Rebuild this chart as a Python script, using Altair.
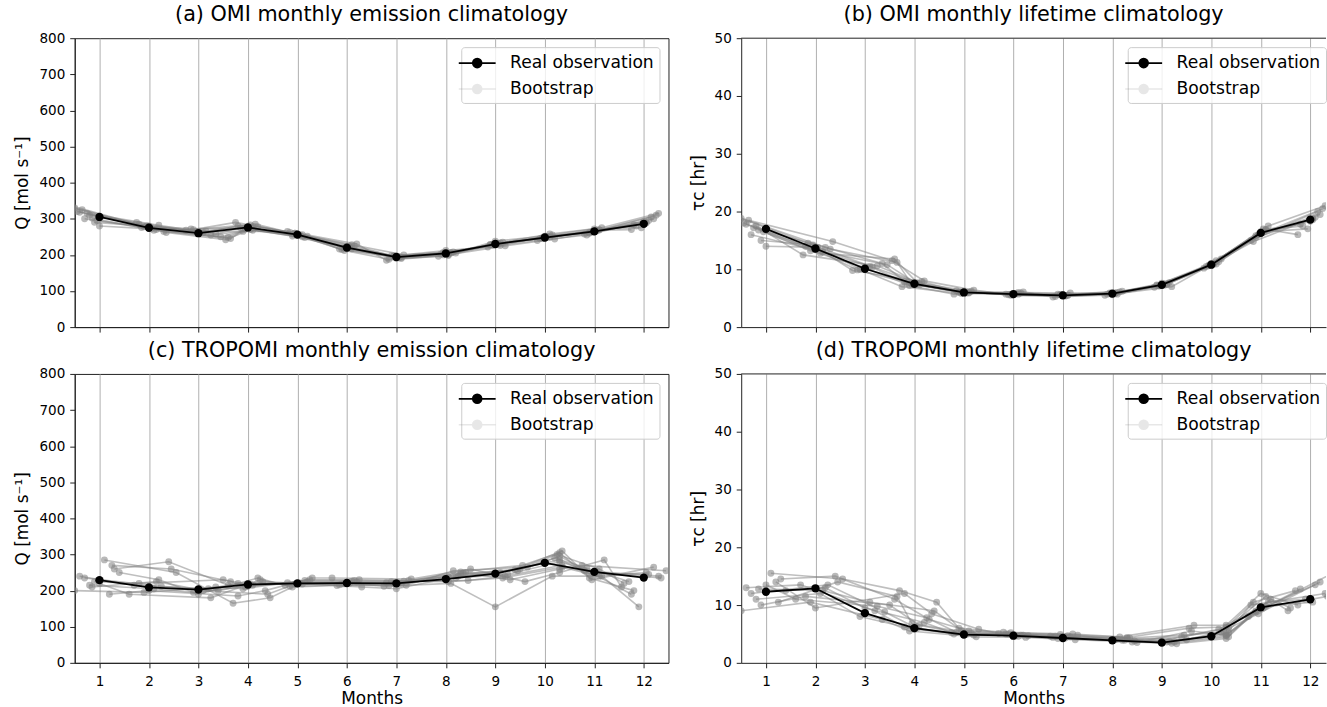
import altair as alt
import pandas as pd

months = list(range(1, 13))

# Real observations
omi_Q = [305, 275, 260, 276, 256, 220, 194, 204, 230, 248, 265, 286]
omi_tau = [17.0, 13.6, 10.1, 7.5, 6.0, 5.7, 5.5, 5.8, 7.3, 10.8, 16.3, 18.6]
tro_Q = [229, 209, 203, 217, 220, 221, 220, 232, 247, 277, 252, 236]
tro_tau = [12.3, 12.9, 8.6, 6.0, 4.9, 4.7, 4.3, 3.9, 3.5, 4.6, 9.6, 11.0]

# Bootstrap month offsets (sampled mean dates) for OMI and TROPOMI
omi_off = [
    [-0.45, -0.20, 0.10, -0.20, -0.10, 0.05, -0.05, 0.10, -0.10, 0.05, -0.05, 0.20],
    [-0.30, 0.15, 0.45, 0.05, 0.10, -0.10, 0.10, -0.05, 0.05, -0.10, 0.10, -0.15],
    [-0.10, -0.05, -0.25, 0.15, -0.15, 0.15, -0.10, 0.15, 0.10, 0.15, -0.10, 0.05],
    [-0.55, 0.30, 0.65, -0.05, 0.05, 0.00, 0.05, -0.10, -0.05, -0.05, 0.05, -0.25],
    [-0.20, -0.25, 0.25, 0.10, 0.15, -0.05, -0.15, 0.05, 0.15, 0.10, 0.15, 0.30],
    [0.00, 0.05, -0.10, -0.25, -0.05, 0.10, 0.15, 0.00, -0.15, -0.15, -0.15, 0.10],
    [-0.35, 0.35, 0.55, 0.20, 0.20, -0.15, 0.00, 0.20, 0.00, 0.00, 0.00, -0.05],
    [-0.05, -0.10, 0.00, -0.10, -0.20, 0.20, -0.20, -0.15, 0.20, 0.20, -0.20, 0.15],
    [-0.25, 0.20, 0.35, -0.15, 0.00, -0.05, 0.10, 0.05, 0.05, 0.10, 0.05, 0.00],
    [-0.50, -0.15, 0.15, 0.05, -0.05, 0.05, -0.05, -0.05, -0.05, -0.05, -0.10, 0.25],
    [-0.15, 0.10, 0.60, 0.10, 0.10, 0.00, 0.05, 0.10, 0.10, 0.05, 0.10, -0.20],
    [-0.40, 0.00, -0.15, -0.05, -0.10, 0.10, 0.00, 0.05, -0.10, 0.00, 0.00, 0.05],
]
tro_off = [
    [-0.40, -0.30, 0.20, -0.20, -0.20, 0.20, -0.20, 0.05, 0.10, 0.30, -0.20, 0.30],
    [0.30, 0.40, 0.60, 0.30, 0.10, -0.10, 0.10, 0.30, 0.50, 0.25, 0.10, -0.40],
    [-0.20, 0.10, -0.10, 0.00, 0.20, 0.10, -0.10, 0.45, 0.20, 0.35, -0.10, 0.10],
    [0.10, 0.55, 0.70, 0.45, -0.10, -0.20, 0.20, 0.15, 0.65, 0.30, 0.00, -0.25],
    [-0.50, -0.10, 0.35, -0.10, 0.25, 0.25, 0.25, 0.40, 0.30, 0.30, -0.25, 0.45],
    [0.40, 0.20, 0.00, 0.20, -0.25, 0.00, -0.25, 0.10, 0.00, 0.15, 0.15, -0.10],
    [-0.10, -0.20, 0.50, 0.10, 0.00, 0.30, 0.00, 0.25, 0.40, 0.35, -0.05, 0.20],
    [0.20, 0.00, 0.80, 0.35, 0.30, -0.30, 0.30, 0.50, 0.60, 0.30, 0.20, -0.45],
    [-0.30, 0.25, 0.40, 0.05, 0.05, 0.05, 0.05, 0.20, 0.25, 0.30, 0.05, 0.35],
    [0.00, -0.40, 0.25, 0.25, -0.15, -0.15, -0.15, 0.35, 0.45, 0.20, -0.15, -0.30],
    [0.25, 0.45, 0.65, -0.05, 0.15, 0.15, 0.15, 0.05, 0.15, 0.35, 0.10, 0.05],
    [-0.15, 0.15, 0.10, 0.40, -0.05, -0.05, -0.05, 0.30, 0.55, 0.30, -0.10, -0.20],
]

# Bootstrap values
boot_omi_Q = [
    [320, 285, 262, 280, 258, 222, 196, 206, 228, 250, 263, 300],
    [300, 270, 250, 270, 250, 215, 190, 200, 232, 245, 270, 280],
    [290, 280, 268, 285, 262, 225, 198, 208, 226, 255, 260, 290],
    [335, 265, 245, 272, 255, 218, 192, 202, 230, 246, 268, 270],
    [310, 290, 255, 268, 248, 212, 188, 198, 235, 258, 275, 315],
    [280, 272, 270, 290, 260, 228, 200, 212, 222, 240, 255, 295],
    [325, 262, 242, 278, 252, 216, 195, 205, 238, 252, 272, 275],
    [295, 278, 265, 265, 265, 230, 185, 196, 225, 244, 258, 305],
    [315, 282, 258, 275, 254, 219, 193, 203, 231, 249, 266, 292],
    [330, 276, 266, 283, 260, 224, 197, 207, 227, 247, 262, 310],
    [302, 268, 248, 279, 256, 220, 194, 205, 233, 251, 269, 283],
    [318, 280, 272, 274, 252, 217, 191, 201, 229, 246, 264, 288],
]
boot_omi_tau = [
    [18.0, 14.0, 10.5, 7.8, 6.1, 5.8, 5.6, 6.0, 7.2, 10.9, 16.0, 19.5],
    [16.0, 13.0, 10.8, 7.5, 6.0, 5.6, 5.5, 5.8, 7.5, 10.5, 16.8, 17.5],
    [15.0, 14.2, 9.8, 7.9, 6.3, 5.9, 5.7, 6.1, 7.4, 11.3, 15.5, 18.8],
    [19.0, 13.5, 11.2, 7.4, 5.9, 5.6, 5.4, 5.7, 7.1, 10.6, 17.0, 16.0],
    [17.5, 12.5, 10.6, 7.6, 6.2, 5.5, 5.3, 5.9, 7.7, 11.5, 17.5, 21.0],
    [14.0, 13.8, 10.0, 7.0, 5.8, 6.0, 5.9, 5.6, 6.9, 10.2, 14.8, 19.0],
    [18.5, 14.8, 11.5, 8.0, 6.4, 5.7, 5.6, 6.2, 7.6, 11.0, 16.5, 17.0],
    [16.5, 13.2, 10.3, 7.2, 5.7, 6.1, 5.2, 5.5, 7.0, 11.8, 15.0, 20.0],
    [17.2, 13.8, 11.0, 7.6, 6.0, 5.7, 5.5, 5.8, 7.3, 10.9, 16.4, 18.3],
    [18.8, 14.5, 10.4, 7.7, 6.1, 5.8, 5.6, 5.9, 7.2, 10.7, 15.8, 20.5],
    [16.8, 12.8, 11.8, 7.3, 5.9, 5.6, 5.4, 5.7, 7.4, 11.1, 16.9, 17.8],
    [17.8, 13.4, 9.9, 7.5, 6.0, 5.7, 5.6, 5.8, 7.3, 10.8, 16.2, 18.6],
]
boot_tro_Q = [
    [240, 215, 205, 220, 222, 224, 222, 238, 250, 285, 255, 240],
    [260, 280, 215, 225, 218, 218, 218, 245, 260, 300, 260, 220],
    [215, 205, 195, 212, 225, 226, 225, 228, 240, 270, 248, 245],
    [285, 250, 165, 180, 210, 214, 215, 255, 265, 295, 245, 190],
    [200, 195, 210, 205, 230, 230, 228, 250, 230, 260, 270, 255],
    [250, 230, 190, 235, 215, 222, 212, 220, 155, 240, 240, 155],
    [225, 220, 230, 215, 220, 210, 205, 240, 258, 310, 230, 265],
    [190, 200, 185, 200, 235, 235, 232, 260, 225, 250, 285, 210],
    [235, 212, 200, 218, 221, 220, 221, 235, 245, 280, 250, 235],
    [220, 190, 180, 230, 212, 216, 214, 248, 255, 290, 262, 225],
    [270, 260, 225, 210, 228, 228, 226, 225, 235, 265, 240, 250],
    [210, 225, 200, 190, 218, 219, 219, 252, 270, 305, 235, 200],
]
boot_tro_tau = [
    [13.0, 13.5, 9.0, 6.2, 5.0, 4.8, 4.4, 4.0, 3.6, 5.0, 10.0, 12.0],
    [14.5, 15.0, 11.0, 7.5, 5.5, 5.0, 4.7, 4.2, 4.0, 5.5, 11.5, 9.5],
    [11.0, 12.0, 8.0, 5.8, 4.8, 4.6, 4.2, 3.8, 3.4, 4.5, 9.0, 13.5],
    [15.5, 14.5, 12.5, 10.5, 6.0, 5.3, 5.0, 4.5, 6.5, 6.5, 12.0, 10.0],
    [9.0, 10.5, 7.5, 5.5, 4.5, 4.4, 4.0, 3.6, 3.3, 4.2, 8.0, 15.5],
    [12.5, 13.0, 9.5, 7.0, 5.2, 4.9, 4.6, 4.1, 3.8, 5.8, 10.5, 11.0],
    [10.0, 11.5, 10.0, 6.5, 5.0, 4.7, 4.3, 3.9, 4.5, 6.0, 8.5, 14.0],
    [14.0, 9.5, 12.0, 8.5, 5.8, 5.1, 4.8, 3.5, 5.5, 4.8, 11.0, 9.0],
    [12.0, 13.5, 8.8, 6.0, 4.9, 4.7, 4.3, 3.9, 3.6, 4.7, 9.5, 11.5],
    [13.5, 11.0, 9.8, 7.8, 5.3, 5.0, 4.6, 4.3, 4.8, 5.3, 10.5, 12.5],
    [10.5, 14.0, 11.5, 6.8, 5.1, 4.8, 4.5, 4.0, 3.7, 5.2, 9.8, 10.5],
    [12.8, 12.5, 10.5, 9.0, 5.6, 5.2, 4.9, 4.4, 6.0, 6.2, 8.8, 12.8],
]

titles = [
    "(a) OMI monthly emission climatology",
    "(b) OMI monthly lifetime climatology",
    "(c) TROPOMI monthly emission climatology",
    "(d) TROPOMI monthly lifetime climatology",
]
y_titles = ["Q [mol s\u207b\u00b9]", "\u03c4c [hr]"]
Q_ticks = [0, 100, 200, 300, 400, 500, 600, 700, 800]
tau_ticks = [0, 10, 20, 30, 40, 50]

FONT = "DejaVu Sans"
SPINE = "#222222"
TYPES = ["Real observation", "Bootstrap"]
STEP = 49.67
LEFT_W = 596
RIGHT_W = 587
H = 290


def build_df(real, boots, offs):
    rows = []
    for s, (vals, off) in enumerate(zip(boots, offs)):
        for m, v, o in zip(months, vals, off):
            rows.append({"x": m + o, "y": v, "type": "Bootstrap", "sid": s})
    for m, v in zip(months, real):
        rows.append({"x": m, "y": v, "type": "Real observation", "sid": -1})
    return pd.DataFrame(rows)


legend_path = ("M-1.85,0H1.85M0.45,0A0.45,0.45,0,1,1,-0.45,0"
               "A0.45,0.45,0,1,1,0.45,0Z")


def panel(df, title, ytitle, yticks, ymax, bottom, right):
    width = RIGHT_W if right else LEFT_W
    xmax = 0.5 + width / STEP
    legend = alt.Legend(
        title=None, orient="none", legendX=388,
        legendY=9, symbolType=legend_path, symbolSize=400,
        symbolStrokeWidth=1.6, symbolStrokeColor="black",
        labelFont=FONT, labelFontSize=17.2,
        labelColor="black", labelOffset=22, rowPadding=6,
        padding=5, fillColor="rgba(255,255,255,0.8)", strokeColor="#cccccc",
        cornerRadius=3,
    )
    color = alt.Color(
        "type:N",
        scale=alt.Scale(domain=TYPES, range=["black", "#808080"]),
        legend=legend,
    )
    opac = alt.Opacity(
        "type:N",
        scale=alt.Scale(domain=TYPES, range=[1, 0.18]),
        legend=legend,
    )
    xaxis = alt.Axis(
        values=months, grid=True, gridColor="#b0b0b0", gridWidth=1,
        domainColor=SPINE, tickColor=SPINE, tickSize=5, labels=bottom,
        labelFont=FONT, labelFontSize=13.6, labelColor="black", labelPadding=7,
        title="Months" if bottom else None, titleFont=FONT, titleFontSize=17,
        titleFontWeight="normal", titleColor="black", titlePadding=2,
    )
    yaxis = alt.Axis(
        values=yticks, grid=False, domainColor=SPINE, tickColor=SPINE,
        tickSize=5, labelFont=FONT, labelFontSize=13.6, labelColor="black",
        labelPadding=5, title=ytitle, titleFont=FONT, titleFontSize=17,
        titleFontWeight="normal", titleColor="black", titlePadding=7,
    )
    X = alt.X("x:Q", scale=alt.Scale(domain=[0.5, xmax], nice=False, zero=False), axis=xaxis)
    Y = alt.Y("y:Q", scale=alt.Scale(domain=[0, ymax], nice=False), axis=yaxis)
    boot = df[df["type"] == "Bootstrap"]
    real = df[df["type"] == "Real observation"]
    l1 = alt.Chart(boot).mark_line(clip=True, strokeWidth=1.6, opacity=0.5).encode(
        x=X, y=Y, color=color, detail="sid:N", order="x:Q")
    l2 = alt.Chart(boot).mark_circle(clip=True, size=48, opacity=0.55).encode(
        x=X, y=Y, color=color)
    l3 = alt.Chart(real).mark_line(strokeWidth=1.8).encode(x=X, y=Y, color=color)
    l4 = alt.Chart(real).mark_circle(size=70).encode(x=X, y=Y, color=color, opacity=opac)
    layers = [l1, l2, l3, l4]
    if right:
        top = alt.Chart(pd.DataFrame({"a": [0]})).mark_rule(
            color=SPINE, strokeWidth=1).encode(
            x=alt.value(0), x2=alt.value(width), y=alt.value(0))
        layers.append(top)
        view = alt.ViewBackground(stroke=None)
    else:
        view = alt.ViewBackground(stroke=SPINE, strokeWidth=1)
    return alt.layer(*layers).properties(
        width=width, height=H, view=view,
        title=alt.TitleParams(title, font=FONT, fontSize=20.8, fontWeight="normal",
                              color="black", offset=5, anchor="middle"),
    )


pa = panel(build_df(omi_Q, boot_omi_Q, omi_off), titles[0], y_titles[0], Q_ticks, 800, False, False)
pb = panel(build_df(omi_tau, boot_omi_tau, omi_off), titles[1], y_titles[1], tau_ticks, 50, False, True)
pc = panel(build_df(tro_Q, boot_tro_Q, tro_off), titles[2], y_titles[0], Q_ticks, 800, True, False)
pd_ = panel(build_df(tro_tau, boot_tro_tau, tro_off), titles[3], y_titles[1], tau_ticks, 50, True, True)

top_row = alt.hconcat(pa, pb, spacing=19).resolve_legend(color="independent", opacity="independent")
bot_row = alt.hconcat(pc, pd_, spacing=19).resolve_legend(color="independent", opacity="independent")
chart = alt.vconcat(top_row, bot_row, spacing=4).resolve_legend(
    color="independent", opacity="independent").properties(
    padding={"left": 13, "top": 2, "right": 0, "bottom": 0},
    background="white",
)

chart.save("out.html", embed_options={"renderer": "svg", "actions": False})
